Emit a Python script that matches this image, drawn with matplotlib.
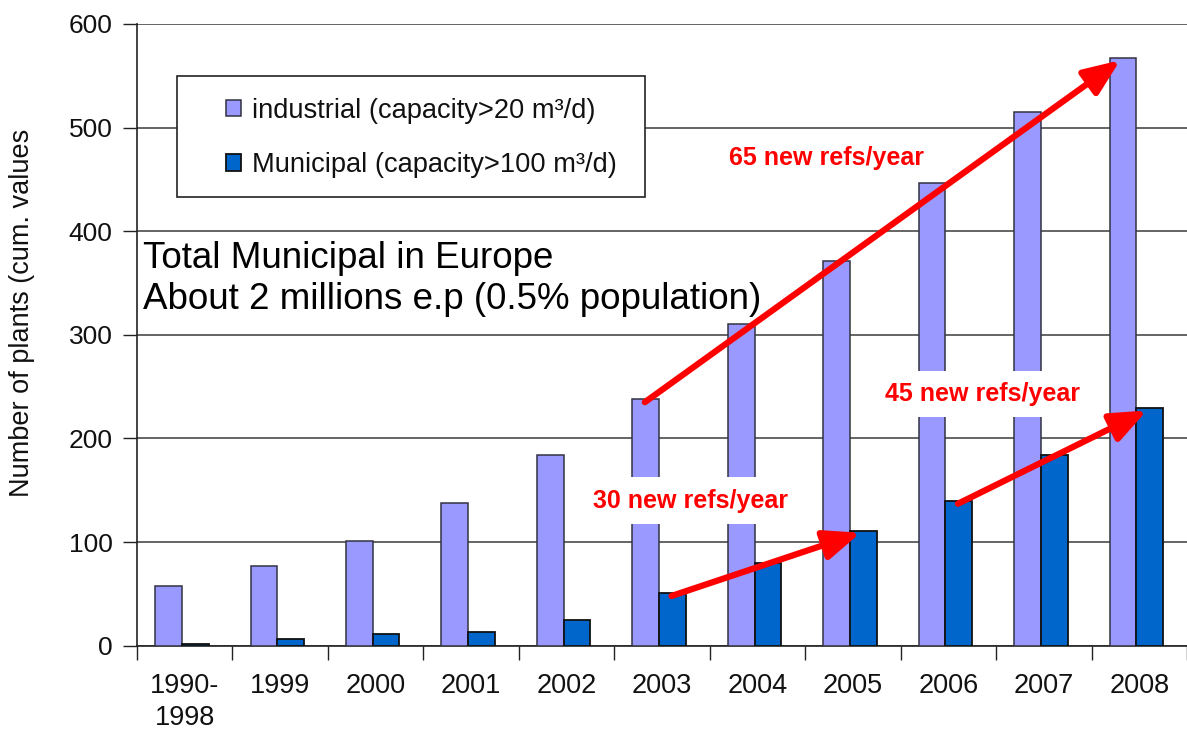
import numpy as np
import matplotlib
matplotlib.use("Agg")
import matplotlib.pyplot as plt
from matplotlib.patches import Rectangle

# ── Data: cumulative number of plants per year ──
years = ["1990-\n1998", "1999", "2000", "2001", "2002", "2003",
         "2004", "2005", "2006", "2007", "2008"]
industrial = [58, 77, 101, 138, 184, 238, 310, 371, 447, 515, 567]
municipal = [2, 6, 11, 13, 25, 51, 80, 111, 140, 184, 229]

label_ind = "industrial (capacity>20 m³/d)"
label_mun = "Municipal (capacity>100 m³/d)"

# growth annotations: (series, start index, end index, text, text x, text y)
trends = [
    ("ind", 5, 10, "65 new refs/year", 6.72, 471),
    ("mun", 5, 7, "30 new refs/year", 5.30, 140),
    ("mun", 8, 10, "45 new refs/year", 8.36, 243),
]

plt.rcParams["font.family"] = ["Liberation Sans", "DejaVu Sans"]

c_ind = "#9999FF"
c_mun = "#0066CC"

fig = plt.figure(figsize=(11.87, 7.33), dpi=100)
ax = fig.add_axes([0.1154, 0.1191, 0.8846, 0.8482])

x = np.arange(len(years))
w = 0.28
x_ind = x - 0.17
x_mun = x + 0.11

ax.bar(x_ind, industrial, width=w, color=c_ind, edgecolor="#333344",
       linewidth=1.1, label=label_ind, zorder=3)
ax.bar(x_mun, municipal, width=w, color=c_mun, edgecolor="#111111",
       linewidth=1.3, label=label_mun, zorder=3)

# ── Axes ──
ax.set_xlim(-0.5, len(years) - 0.5)
ax.set_ylim(0, 600)
ax.set_yticks(np.arange(0, 601, 100))
ax.set_xticks(x)
ax.set_xticklabels(years, linespacing=1.3)
ax.set_xticks(np.arange(-0.5, len(years), 1), minor=True)
ax.tick_params(axis="x", which="major", length=0, pad=20, labelsize=19.5,
               colors="#111111")
ax.tick_params(axis="x", which="minor", length=10, width=1, color="#222222")
ax.tick_params(axis="y", length=10, width=1, pad=7.5, labelsize=19,
               labelcolor="#111111", color="#222222")

for side in ["top", "right"]:
    ax.spines[side].set_visible(False)
for side in ["left", "bottom"]:
    ax.spines[side].set_color("#222222")
    ax.spines[side].set_linewidth(1.2)

ax.grid(axis="y", color="#3a3a3a", linewidth=1.1, zorder=0)
ax.set_axisbelow(True)

ax.set_ylabel("Number of plants (cum. values", fontsize=19.5, color="#111111")
ax.yaxis.set_label_coords(-0.097, 0.535)

# ── Legend with white framed box ──
ax.add_patch(Rectangle((0.0381, 0.7215), 0.4455, 0.1948, transform=ax.transAxes,
                       facecolor="white", edgecolor="#222222", linewidth=1.2,
                       zorder=4))
leg = ax.legend(loc="center left", bbox_to_anchor=(0.0847, 0.8166),
                frameon=False, fontsize=19.6, borderpad=0, borderaxespad=0,
                handlelength=0.57, handleheight=0.57, handletextpad=0.38,
                labelspacing=1.05)
leg.set_zorder(5)
for t in leg.get_texts():
    t.set_color("#111111")

# ── Annotations ──
ax.text(-0.44, 354, "Total Municipal in Europe\nAbout 2 millions e.p (0.5% population)",
        fontsize=26.5, ha="left", va="center", linespacing=1.2, color="black",
        zorder=5)

for series, i0, i1, txt, tx, ty in trends:
    if series == "ind":
        xs, vals = x_ind, industrial
    else:
        xs, vals = x_mun, municipal
    ax.annotate("", xy=(xs[i1] - 0.03, vals[i1] - 2),
                xytext=(xs[i0] - 0.01, vals[i0] - 3),
                arrowprops=dict(arrowstyle="-|>,head_length=1.1,head_width=0.45",
                                mutation_scale=20, color="#FF0000", lw=4.5,
                                shrinkA=0, shrinkB=0),
                zorder=6)
    ax.text(tx, ty, txt, fontsize=18, fontweight="bold", color="#FF0000",
            ha="center", va="center", zorder=5,
            bbox=dict(boxstyle="square,pad=0.45", facecolor="white",
                      edgecolor="none"))

fig.savefig("out.png", dpi=100)
